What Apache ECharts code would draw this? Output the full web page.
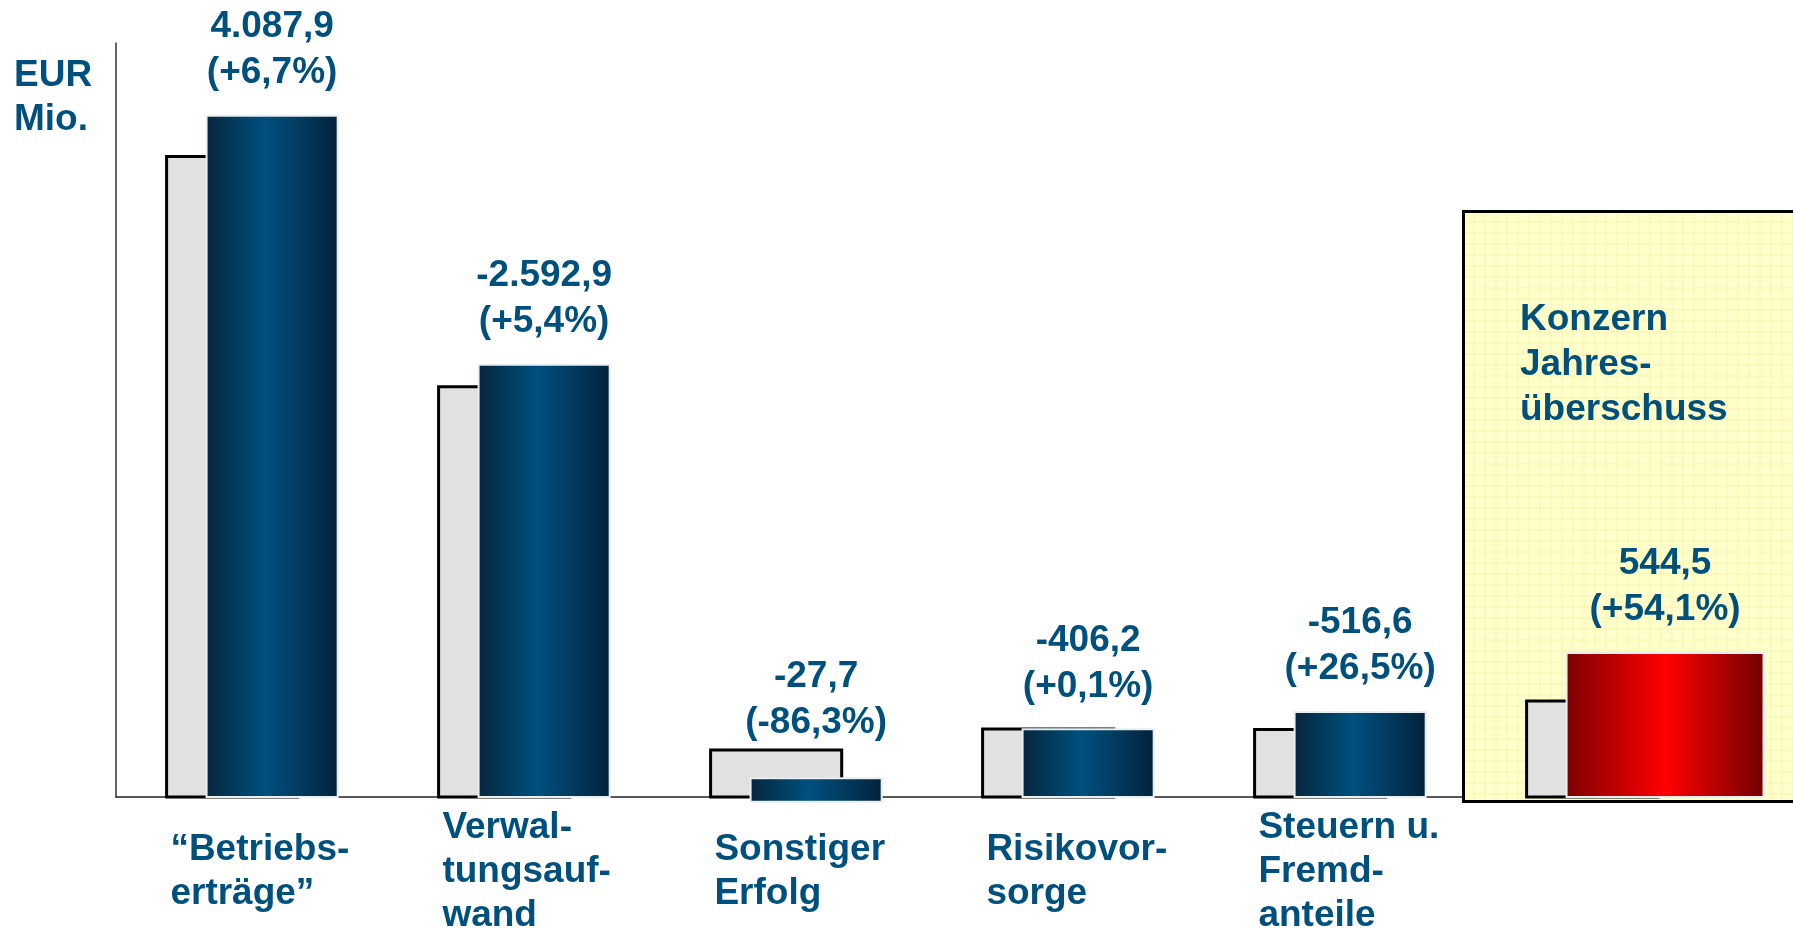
<!DOCTYPE html>
<html>
<head>
<meta charset="utf-8">
<script src="https://cdn.jsdelivr.net/npm/echarts@6/dist/echarts.min.js"></script>
<style>
  html, body { margin: 0; padding: 0; background: #fff; }
  #chart { width: 1793px; height: 940px; }
</style>
</head>
<body>
<div id="chart"></div>
<script type="text/javascript">
// Daten
var categories = ['“Betriebs-\nerträge”', 'Verwal-\ntungsauf-\nwand', 'Sonstiger\nErfolg', 'Risikovor-\nsorge', 'Steuern u.\nFremd-\nanteile', 'Konzern\nJahres-\nüberschuss'];
var currentValues = [4087.9, -2592.9, -27.7, -406.2, -516.6, 544.5];   // EUR Mio.
var changePct = [6.7, 5.4, -86.3, 0.1, 26.5, 54.1];
// Balkenhoehen wie im Bild gezeichnet (Vorjahr grau, aktuelles Jahr farbig)
var priorBars = [3843, 2462, 282, 408, 405, 576];
var currentBars = [4088, 2593, 112, 406, 510, 864];
var currentBelow = [0, 0, -28, 0, 0, 0];
var yMax = 4524;

var textColor = '#00507d';
var fontFamily = '"Liberation Sans", Arial, sans-serif';
var textFont = 'bold 37px ' + fontFamily;

function fmtDe(v, digits) {
  var s = Math.abs(v).toFixed(digits).split('.');
  var intPart = s[0].replace(/\B(?=(\d{3})+(?!\d))/g, '.');
  return (v < 0 ? '-' : '') + intPart + ',' + s[1];
}
function fmtPct(p) {
  return '(' + (p >= 0 ? '+' : '') + fmtDe(p, 1) + '%)';
}

var blueFill = new echarts.graphic.LinearGradient(0, 0, 1, 0, [
  {offset: 0, color: '#06263c'},
  {offset: 0.45, color: '#00507f'},
  {offset: 1, color: '#03223a'}
]);
var redFill = new echarts.graphic.LinearGradient(0, 0, 1, 0, [
  {offset: 0, color: '#7c0000'},
  {offset: 0.5, color: '#ff0000'},
  {offset: 1, color: '#720000'}
]);

var seriesData = categories.map(function (c, i) {
  return [i, priorBars[i], currentBars[i], currentBelow[i]];
});

function renderPair(params, api) {
  var i = params.dataIndex;
  var last = i === categories.length - 1;
  var base = api.coord([i, 0]);
  var band = api.size([1, 0])[0];
  var greyX = base[0] - band * 0.314;
  var greyW = band * 0.482;
  var mainX = greyX + band * 0.147;
  var mainW = last ? band * 0.724 : band * 0.482;
  var pTop = api.coord([i, api.value(1)])[1];
  var cTop = api.coord([i, api.value(2)])[1];
  var cBot = api.coord([i, api.value(3)])[1];
  var labelY = Math.min(cTop - 20, pTop - 4);
  var children = [
    {
      type: 'rect',
      shape: {x: greyX, y: pTop, width: greyW, height: base[1] - pTop},
      style: {fill: '#e1e1e1', stroke: '#000', lineWidth: 3}
    },
    {
      type: 'rect',
      shape: {x: mainX, y: cTop, width: mainW, height: cBot - cTop},
      style: {fill: last ? redFill : blueFill, stroke: '#e8eef2', lineWidth: 2}
    },
    {
      type: 'text',
      x: mainX + mainW / 2,
      y: labelY,
      style: {
        text: fmtDe(currentValues[i], 1) + '\n' + fmtPct(changePct[i]),
        fill: textColor,
        font: textFont,
        align: 'center',
        verticalAlign: 'bottom',
        lineHeight: 46
      }
    }
  ];
  if (!last) {
    children.push({
      type: 'text',
      x: base[0] - band * 0.30,
      y: base[1] + 75,
      style: {
        text: categories[i],
        fill: textColor,
        font: textFont,
        align: 'left',
        verticalAlign: 'middle',
        lineHeight: 44
      }
    });
  }
  return {type: 'group', children: children};
}

// gelbes Kaestchen mit feinem Raster
var pat = document.createElement('canvas');
pat.width = 11; pat.height = 11;
var ctx = pat.getContext('2d');
ctx.fillStyle = '#ffffcc';
ctx.fillRect(0, 0, 11, 11);
ctx.fillStyle = '#f8f3b0';
ctx.fillRect(10, 0, 1, 11);
ctx.fillRect(0, 10, 11, 1);

var myChart = echarts.init(document.getElementById('chart'));
var option = {
  backgroundColor: '#fff',
  animation: false,
  grid: {left: 116, right: 45, top: 43, bottom: 143},
  xAxis: {
    type: 'category',
    data: categories,
    axisLine: {lineStyle: {color: '#222', width: 1.5}},
    axisTick: {show: false},
    axisLabel: {show: false},
    splitLine: {show: false}
  },
  yAxis: {
    type: 'value',
    min: 0,
    max: yMax,
    axisLine: {show: true, lineStyle: {color: '#333', width: 1.5}},
    axisTick: {show: false},
    axisLabel: {show: false},
    splitLine: {show: false}
  },
  graphic: [
    {
      type: 'rect',
      left: 1462,
      top: 210,
      z: 1,
      shape: {width: 400, height: 590},
      style: {fill: {image: pat, repeat: 'repeat'}, stroke: '#000', lineWidth: 3}
    },
    {
      type: 'text',
      left: 14,
      top: 54,
      z: 3,
      style: {text: 'EUR\nMio.', fill: textColor, font: textFont, lineHeight: 44}
    },
    {
      type: 'text',
      left: 1520,
      top: 297,
      z: 3,
      style: {text: categories[5], fill: textColor, font: textFont, lineHeight: 45}
    }
  ],
  series: [
    {
      type: 'custom',
      z: 2,
      clip: false,
      renderItem: renderPair,
      encode: {x: 0, y: [1, 2, 3]},
      data: seriesData
    }
  ]
};
myChart.setOption(option);
</script>
</body>
</html>
